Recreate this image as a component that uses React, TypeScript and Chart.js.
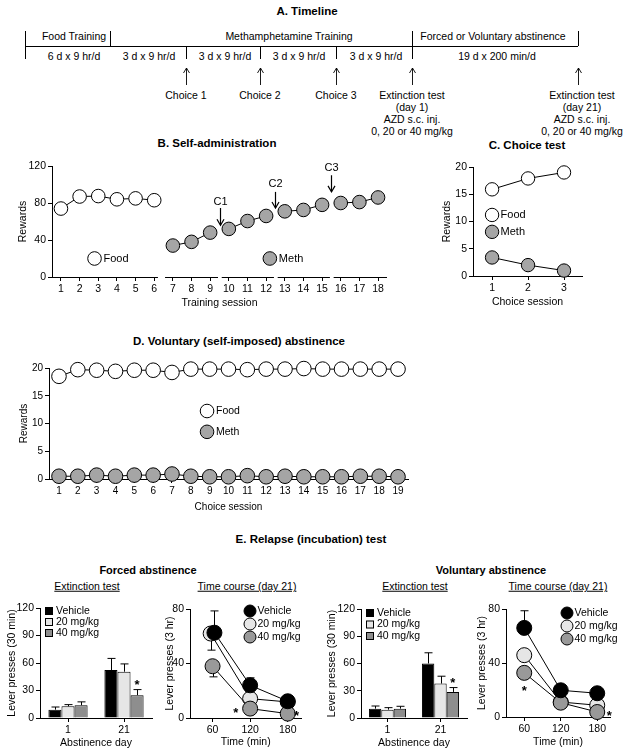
import React, { useEffect, useRef } from "react";
import { Chart, registerables } from "chart.js";

Chart.register(...registerables);

const FONT = '"Liberation Sans", Arial, Helvetica, sans-serif';
const WHITE = "#ffffff";
const METH_GRAY = "#a5a5a5";
const LIGHT = "#e6e6e6";
const MID = "#999999";
const BAR_MID = "#8e8e8e";

// ---------- B. Self-administration ----------
const trainingTicks = [1, 2, 3, 4, 5, 6, 7, 8, 9, 10, 11, 12, 13, 14, 15, 16, 17, 18];
const foodTrainingSessions = [1, 2, 3, 4, 5, 6];
const foodTrainingRewards = [74, 87, 87.5, 84, 85, 83];
const methTrainingSessions = [7, 8, 9, 10, 11, 12, 13, 14, 15, 16, 17, 18];
const methTrainingRewards = [34, 38, 48, 52, 60.5, 66, 71, 72.5, 78, 80, 81, 86];
const methBlockStarts = [7, 10, 13, 16];
const rewardTicksB = [0, 40, 80, 120];
const choiceLabels = ["C1", "C2", "C3"];
const choiceAfterSession = [9, 12, 15];
const choiceArrowTail = [74.6, 92, 110];
const choiceArrowTip = [56, 74.6, 92];
const choiceLabelLevel = [81, 100.5, 118];

// ---------- C. Choice test ----------
const choiceSessions = [1, 2, 3];
const foodChoice = [15.9, 17.9, 19.0];
const methChoice = [3.4, 2.0, 1.0];
const rewardTicks20 = [0, 5, 10, 15, 20];

// ---------- D. Voluntary abstinence ----------
const abstinenceSessions = [1, 2, 3, 4, 5, 6, 7, 8, 9, 10, 11, 12, 13, 14, 15, 16, 17, 18, 19];
const foodVoluntary = [18.5, 19.7, 19.6, 19.4, 19.6, 19.6, 19.2, 19.8, 19.8, 19.8, 19.7, 19.8, 19.8, 19.9, 19.8, 19.8, 19.8, 19.8, 19.8];
const methVoluntary = [0.5, 0.5, 0.7, 0.5, 0.7, 0.7, 0.9, 0.5, 0.4, 0.4, 0.6, 0.4, 0.5, 0.4, 0.4, 0.4, 0.5, 0.5, 0.4];

// ---------- E. Relapse test ----------
const abstinenceDays = ["1", "21"];
const doseLabels = ["Vehicle", "20 mg/kg", "40 mg/kg"];
const forcedExtVehicle = [9.1, 52.3];
const forcedExtVehicleSem = [2.9, 12.7];
const forcedExt20 = [12.8, 50.5];
const forcedExt20Sem = [1.8, 8.5];
const forcedExt40 = [13.9, 24.9];
const forcedExt40Sem = [3.7, 6.1];
const voluntaryExtVehicle = [10.3, 60.0];
const voluntaryExtVehicleSem = [2.9, 11.8];
const voluntaryExt20 = [9.2, 37.9];
const voluntaryExt20Sem = [2.2, 8.1];
const voluntaryExt40 = [10.3, 28.7];
const voluntaryExt40Sem = [2.6, 4.8];
const extTicks = [0, 30, 60, 90, 120];

const timePoints = [60, 120, 180];
const tcTicks = [0, 40, 80];
const forcedTcVehicle = [62.6, 24.0, 12.3];
const forcedTcVehicleErrUp = [16, 5.5, 0];
const forcedTc20 = [62.0, 14.2, 11.8];
const forcedTc20ErrDown = [12.2, 0, 0];
const forcedTc40 = [38.0, 6.9, 3.2];
const forcedTc40ErrDown = [7.8, 0, 0];
const voluntaryTcVehicle = [66.0, 19.8, 17.6];
const voluntaryTcVehicleErrUp = [12.7, 0, 0];
const voluntaryTc20 = [45.8, 11.1, 8.7];
const voluntaryTc40 = [32.7, 10.6, 3.7];
const forcedTcStarX = [97, 194];
const forcedTcStarY = [5.9, 4.4];
const voluntaryTcStarX = [60, 200];
const voluntaryTcStarY = [22, 3.7];
const FORCED_DODGE_MIN = 3; // small horizontal dodge for overlapping points at 60 min

// ---------- helpers ----------
type Box = { left: number; top: number; width: number; height: number };
type Area = { l: number; t: number; r: number; b: number };

function axis(fs: number, o: any) {
  const s: any = {
    type: o.type || "linear",
    position: o.position,
    offset: !!o.offset,
    border: { display: o.border !== false, color: "#000", width: 1 },
    grid: {
      display: true,
      drawOnChartArea: false,
      drawTicks: true,
      tickLength: 4,
      color: "#000",
      lineWidth: 1,
      offset: false,
    },
    ticks: {
      color: "#000",
      font: { family: FONT, size: fs },
      padding: 2,
      autoSkip: false,
      maxRotation: 0,
      minRotation: 0,
    },
    title: {
      display: true,
      text: o.title,
      color: "#000",
      font: { family: FONT, size: fs },
      padding: o.position === "left" ? { top: o.titlePad, bottom: 0 } : { top: 0, bottom: o.titlePad },
    },
    afterFit: o.afterFit,
  };
  if (o.min !== undefined) s.min = o.min;
  if (o.max !== undefined) s.max = o.max;
  if (o.tickValues) {
    const vals = o.tickValues;
    s.afterBuildTicks = (sc: any) => {
      sc.ticks = vals.map((v: number) => ({ value: v }));
    };
  }
  return s;
}

function frame(box: Box, a: Area, fs: number, x: any, y: any) {
  return {
    responsive: false,
    maintainAspectRatio: false,
    animation: false,
    devicePixelRatio: 1,
    events: [],
    layout: { padding: { left: 0, top: a.t, right: box.width - a.r, bottom: 0 } },
    plugins: { legend: { display: false }, tooltip: { enabled: false }, title: { display: false } },
    scales: {
      x: axis(fs, { ...x, position: "bottom", afterFit: (s: any) => { s.height = box.height - a.b; } }),
      y: axis(fs, { ...y, position: "left", afterFit: (s: any) => { s.width = a.l; } }),
    },
  };
}

function lineDs(label: string, xs: number[], ys: number[], fill: string, r: number, extra: any = {}) {
  return {
    type: "line",
    label,
    data: xs.map((x, i) => ({ x, y: ys[i] })),
    borderColor: "#000",
    borderWidth: 1,
    backgroundColor: fill,
    pointBackgroundColor: fill,
    pointBorderColor: "#000",
    pointBorderWidth: 1,
    pointRadius: r,
    pointHoverRadius: r,
    tension: 0,
    fill: false,
    clip: false,
    ...extra,
  };
}

function circle(ctx: any, x: number, y: number, r: number, fill: string) {
  ctx.beginPath();
  ctx.arc(x, y, r, 0, Math.PI * 2);
  ctx.fillStyle = fill;
  ctx.fill();
  ctx.lineWidth = 1;
  ctx.strokeStyle = "#000";
  ctx.stroke();
}

function text(ctx: any, s: string, x: number, y: number, size: number, align = "left") {
  ctx.font = `${size}px ${FONT}`;
  ctx.fillStyle = "#000";
  ctx.textAlign = align;
  ctx.textBaseline = "middle";
  ctx.fillText(s, x, y);
}

function star(ctx: any, x: number, yCenter: number) {
  ctx.font = `bold 13px ${FONT}`;
  ctx.fillStyle = "#000";
  ctx.textAlign = "center";
  ctx.textBaseline = "alphabetic";
  ctx.fillText("*", x, yCenter + 7.5);
}

function vline(ctx: any, x: number, y1: number, y2: number) {
  ctx.beginPath();
  ctx.moveTo(x, y1);
  ctx.lineTo(x, y2);
  ctx.stroke();
}

// ---------- chart configs ----------
const B_BOX: Box = { left: 0, top: 150, width: 410, height: 165 };
const B_AREA: Area = { l: 52, t: 16, r: 387, b: 127 };
const sessionAxisSegments = [
  [0.52, 6.2],
  [6.58, 9.42],
  [9.62, 12.42],
  [12.62, 15.42],
  [15.62, 18.48],
];

function makeB() {
  const blocks = methBlockStarts.map((s) => {
    const xs: number[] = [];
    const ys: number[] = [];
    methTrainingSessions.forEach((x, i) => {
      if (x >= s && x < s + 3) {
        xs.push(x);
        ys.push(methTrainingRewards[i]);
      }
    });
    return lineDs("Meth", xs, ys, METH_GRAY, 6.8);
  });
  const plugin = {
    id: "bExtras",
    beforeDatasetsDraw(chart: any) {
      const ctx = chart.ctx;
      const xs = chart.scales.x;
      const yb = Math.round(chart.chartArea.bottom - 0.5) + 0.5;
      ctx.save();
      ctx.strokeStyle = "#000";
      ctx.lineWidth = 1;
      sessionAxisSegments.forEach(([a, b]) => {
        ctx.beginPath();
        ctx.moveTo(xs.getPixelForValue(a), yb);
        ctx.lineTo(xs.getPixelForValue(b), yb);
        ctx.stroke();
      });
      ctx.restore();
    },
    afterDatasetsDraw(chart: any) {
      const ctx = chart.ctx;
      const xs = chart.scales.x;
      const ys = chart.scales.y;
      ctx.save();
      ctx.strokeStyle = "#000";
      ctx.lineWidth = 1.2;
      choiceLabels.forEach((lab, i) => {
        const xp = Math.round(xs.getPixelForValue(choiceAfterSession[i] + 0.5)) + 0.5;
        const y1 = ys.getPixelForValue(choiceArrowTail[i]);
        const y2 = ys.getPixelForValue(choiceArrowTip[i]);
        vline(ctx, xp, y1, y2);
        ctx.beginPath();
        ctx.moveTo(xp - 3.5, y2 - 6);
        ctx.lineTo(xp, y2);
        ctx.lineTo(xp + 3.5, y2 - 6);
        ctx.stroke();
        text(ctx, lab, xp, ys.getPixelForValue(choiceLabelLevel[i]), 11, "center");
      });
      const legend = [
        { t: "Food", fill: WHITE, x: 2.8 },
        { t: "Meth", fill: METH_GRAY, x: 12.2 },
      ];
      legend.forEach((l) => {
        const cx = xs.getPixelForValue(l.x);
        const cy = ys.getPixelForValue(20);
        circle(ctx, cx, cy, 6.8, l.fill);
        text(ctx, l.t, cx + 9, cy, 11);
      });
      ctx.restore();
    },
  };
  return {
    type: "line",
    data: { datasets: [lineDs("Food", foodTrainingSessions, foodTrainingRewards, WHITE, 6.8), ...blocks] },
    options: frame(
      B_BOX,
      B_AREA,
      10.5,
      { min: 0.52, max: 18.48, tickValues: trainingTicks, title: "Training session", titlePad: 5.5, border: false },
      { min: 0, max: 120, tickValues: rewardTicksB, title: "Rewards", titlePad: 16.7 }
    ),
    plugins: [plugin],
  };
}

const C_BOX: Box = { left: 420, top: 150, width: 205, height: 165 };
const C_AREA: Area = { l: 53, t: 17, r: 162, b: 126 };
function makeC() {
  const plugin = {
    id: "cExtras",
    afterDatasetsDraw(chart: any) {
      const ctx = chart.ctx;
      const xs = chart.scales.x;
      const ys = chart.scales.y;
      ctx.save();
      const legend = [
        { t: "Food", fill: WHITE, y: 11.2 },
        { t: "Meth", fill: METH_GRAY, y: 8.1 },
      ];
      legend.forEach((l) => {
        const cx = xs.getPixelForValue(1);
        const cy = ys.getPixelForValue(l.y);
        circle(ctx, cx, cy, 6.7, l.fill);
        text(ctx, l.t, cx + 8.5, cy, 11);
      });
      ctx.restore();
    },
  };
  return {
    type: "line",
    data: {
      datasets: [
        lineDs("Food", choiceSessions, foodChoice, WHITE, 6.7),
        lineDs("Meth", choiceSessions, methChoice, METH_GRAY, 6.7),
      ],
    },
    options: frame(
      C_BOX,
      C_AREA,
      10.5,
      { min: 0.47, max: 3.5, tickValues: choiceSessions, title: "Choice session", titlePad: 6.5 },
      { min: 0, max: 20, tickValues: rewardTicks20, title: "Rewards", titlePad: 20.7 }
    ),
    plugins: [plugin],
  };
}

const D_BOX: Box = { left: 0, top: 350, width: 430, height: 165 };
const D_AREA: Area = { l: 49, t: 18, r: 408, b: 129 };
function makeD() {
  const plugin = {
    id: "dExtras",
    afterDatasetsDraw(chart: any) {
      const ctx = chart.ctx;
      const xs = chart.scales.x;
      const ys = chart.scales.y;
      ctx.save();
      const legend = [
        { t: "Food", fill: WHITE, y: 12.25 },
        { t: "Meth", fill: METH_GRAY, y: 8.5 },
      ];
      legend.forEach((l) => {
        const cx = xs.getPixelForValue(8.86);
        const cy = ys.getPixelForValue(l.y);
        circle(ctx, cx, cy, 6.8, l.fill);
        text(ctx, l.t, cx + 9, cy, 10.5);
      });
      ctx.restore();
    },
  };
  return {
    type: "line",
    data: {
      datasets: [
        lineDs("Food", abstinenceSessions, foodVoluntary, WHITE, 7.3),
        lineDs("Meth", abstinenceSessions, methVoluntary, METH_GRAY, 7.3),
      ],
    },
    options: frame(
      D_BOX,
      D_AREA,
      10,
      { min: 0.47, max: 19.53, tickValues: abstinenceSessions, title: "Choice session", titlePad: 2 },
      { min: 0, max: 20, tickValues: rewardTicks20, title: "Rewards", titlePad: 18 }
    ),
    plugins: [plugin],
  };
}

// ---------- E: bar charts ----------
function barDs(label: string, data: number[], sem: number[], fill: string) {
  return {
    type: "bar",
    label,
    data,
    sem,
    backgroundColor: fill,
    borderColor: "#000",
    borderWidth: 1,
    categoryPercentage: 0.7,
    barPercentage: 1,
  };
}

function barExtras(legendRel: { x: number; y: number; step: number }) {
  return {
    id: "barExtras",
    afterDatasetsDraw(chart: any) {
      const ctx = chart.ctx;
      const ys = chart.scales.y;
      ctx.save();
      ctx.strokeStyle = "#000";
      ctx.lineWidth = 1;
      chart.data.datasets.forEach((ds: any, di: number) => {
        const meta = chart.getDatasetMeta(di);
        meta.data.forEach((el: any, i: number) => {
          const x = Math.round(el.x) + 0.5;
          const top = ys.getPixelForValue(ds.data[i] + ds.sem[i]);
          vline(ctx, x, el.y, top);
          ctx.beginPath();
          ctx.moveTo(x - 4, top);
          ctx.lineTo(x + 4, top);
          ctx.stroke();
          if (di === 2 && i === 1) star(ctx, el.x, top - 8);
        });
      });
      const ca = chart.chartArea;
      const fills = ["#000", LIGHT, BAR_MID];
      doseLabels.forEach((lab, i) => {
        const cx = ca.left + legendRel.x;
        const cy = ca.top + legendRel.y + i * legendRel.step;
        ctx.fillStyle = fills[i];
        ctx.fillRect(cx - 4, cy - 4, 8, 8);
        ctx.strokeRect(cx - 3.5, cy - 3.5, 7, 7);
        text(ctx, lab, cx + 7, cy, 10.5);
      });
      ctx.restore();
    },
  };
}

function makeBar(box: Box, area: Area, series: number[][], sems: number[][], yTitlePad: number, legendRel: any) {
  const fills = ["#000", LIGHT, BAR_MID];
  return {
    type: "bar",
    data: {
      labels: abstinenceDays,
      datasets: series.map((d, i) => barDs(doseLabels[i], d, sems[i], fills[i])),
    },
    options: frame(
      box,
      area,
      10.5,
      { type: "category", offset: true, title: "Abstinence day", titlePad: 6.7 },
      { min: 0, max: 120, tickValues: extTicks, title: "Lever presses (30 min)", titlePad: yTitlePad }
    ),
    plugins: [barExtras(legendRel)],
  };
}

// ---------- E: time courses ----------
function tcExtras(legendRel: { x: number; y: number; step: number }, starX: number[], starY: number[]) {
  return {
    id: "tcExtras",
    beforeDatasetsDraw(chart: any) {
      const ctx = chart.ctx;
      const ys = chart.scales.y;
      ctx.save();
      ctx.strokeStyle = "#000";
      ctx.lineWidth = 1;
      chart.data.datasets.forEach((ds: any, di: number) => {
        const meta = chart.getDatasetMeta(di);
        meta.data.forEach((el: any, i: number) => {
          const x = Math.round(el.x) + 0.5;
          const v = ds.data[i].y;
          const up = ds.errUp ? ds.errUp[i] : 0;
          const dn = ds.errDown ? ds.errDown[i] : 0;
          if (up > 0) {
            const t = ys.getPixelForValue(v + up);
            vline(ctx, x, el.y, t);
            ctx.beginPath();
            ctx.moveTo(x - 4, t);
            ctx.lineTo(x + 4, t);
            ctx.stroke();
          }
          if (dn > 0) {
            const b = ys.getPixelForValue(v - dn);
            vline(ctx, x, el.y, b);
            ctx.beginPath();
            ctx.moveTo(x - 4, b);
            ctx.lineTo(x + 4, b);
            ctx.stroke();
          }
        });
      });
      ctx.restore();
    },
    afterDatasetsDraw(chart: any) {
      const ctx = chart.ctx;
      const xs = chart.scales.x;
      const ys = chart.scales.y;
      const ca = chart.chartArea;
      ctx.save();
      starX.forEach((sx, i) => star(ctx, xs.getPixelForValue(sx), ys.getPixelForValue(starY[i])));
      const fills = ["#000", LIGHT, MID];
      doseLabels.forEach((lab, i) => {
        const cx = ca.left + legendRel.x;
        const cy = ca.top + legendRel.y + i * legendRel.step;
        circle(ctx, cx, cy, 6, fills[i]);
        text(ctx, lab, cx + 7.5, cy, 10.5);
      });
      ctx.restore();
    },
  };
}

function makeTc(
  box: Box,
  area: Area,
  xmin: number,
  xmax: number,
  veh: number[],
  vehX: number[],
  vehUp: number[],
  d20: number[],
  d20X: number[],
  d20Down: number[],
  d40: number[],
  d40Down: number[],
  yTitlePad: number,
  legendRel: any,
  starX: number[],
  starY: number[]
) {
  return {
    type: "line",
    data: {
      datasets: [
        lineDs("Vehicle", vehX, veh, "#000", 7.5, { order: 0, errUp: vehUp }),
        lineDs("20 mg/kg", d20X, d20, LIGHT, 7.5, { order: 2, errDown: d20Down }),
        lineDs("40 mg/kg", timePoints, d40, MID, 7.5, { order: 1, errDown: d40Down }),
      ],
    },
    options: frame(
      box,
      area,
      10.5,
      { min: xmin, max: xmax, tickValues: timePoints, title: "Time (min)", titlePad: 7.7 },
      { min: 0, max: 80, tickValues: tcTicks, title: "Lever presses (3 hr)", titlePad: yTitlePad }
    ),
    plugins: [tcExtras(legendRel, starX, starY)],
  };
}

const EFB_BOX: Box = { left: 0, top: 598, width: 160, height: 158 };
const EFB_AREA: Area = { l: 40, t: 10, r: 152, b: 120 };
const EFT_BOX: Box = { left: 160, top: 598, width: 150, height: 158 };
const EFT_AREA: Area = { l: 30, t: 11, r: 142, b: 120 };
const EVB_BOX: Box = { left: 310, top: 598, width: 165, height: 158 };
const EVB_AREA: Area = { l: 51, t: 11, r: 157, b: 120 };
const EVT_BOX: Box = { left: 470, top: 598, width: 155, height: 158 };
const EVT_AREA: Area = { l: 36, t: 11, r: 140, b: 119 };

const makeForcedBar = () =>
  makeBar(EFB_BOX, EFB_AREA, [forcedExtVehicle, forcedExt20, forcedExt40], [forcedExtVehicleSem, forcedExt20Sem, forcedExt40Sem], 5.7, { x: 9, y: 3, step: 11 });
const makeVoluntaryBar = () =>
  makeBar(EVB_BOX, EVB_AREA, [voluntaryExtVehicle, voluntaryExt20, voluntaryExt40], [voluntaryExtVehicleSem, voluntaryExt20Sem, voluntaryExt40Sem], 15.7, { x: 9, y: 4, step: 11.5 });
const makeForcedTc = () =>
  makeTc(
    EFT_BOX,
    EFT_AREA,
    24,
    202,
    forcedTcVehicle,
    timePoints.map((t, i) => (i === 0 ? t + FORCED_DODGE_MIN : t)),
    forcedTcVehicleErrUp,
    forcedTc20,
    timePoints.map((t, i) => (i === 0 ? t - FORCED_DODGE_MIN : t)),
    forcedTc20ErrDown,
    forcedTc40,
    forcedTc40ErrDown,
    3.7,
    { x: 60, y: 2, step: 13 },
    forcedTcStarX,
    forcedTcStarY
  );
const makeVoluntaryTc = () =>
  makeTc(
    EVT_BOX,
    EVT_AREA,
    30,
    201,
    voluntaryTcVehicle,
    timePoints,
    voluntaryTcVehicleErrUp,
    voluntaryTc20,
    timePoints,
    [0, 0, 0],
    voluntaryTc40,
    [0, 0, 0],
    5.7,
    { x: 61, y: 4, step: 13 },
    voluntaryTcStarX,
    voluntaryTcStarY
  );

// ---------- React components ----------
function ChartBox({ box, make }: { box: Box; make: () => any }) {
  const ref = useRef<HTMLCanvasElement>(null);
  useEffect(() => {
    const chart = new Chart(ref.current as HTMLCanvasElement, make());
    return () => chart.destroy();
  }, []);
  return (
    <canvas
      ref={ref}
      width={box.width}
      height={box.height}
      style={{ position: "absolute", left: box.left, top: box.top, width: box.width, height: box.height }}
    />
  );
}

function Label({ x, y, t, size = 11, bold = false, underline = false }: any) {
  return (
    <div
      style={{
        position: "absolute",
        left: x,
        top: y,
        transform: "translate(-50%, -50%)",
        whiteSpace: "nowrap",
        fontFamily: FONT,
        fontSize: size,
        fontWeight: bold ? "bold" : "normal",
        textDecoration: underline ? "underline" : "none",
        lineHeight: 1,
        color: "#000",
      }}
    >
      {t}
    </div>
  );
}

const TL_FS = 10.5;
function Timeline() {
  const lineY = 46;
  const tickTop = 31;
  const tickBottom = 59;
  const upper = [
    { x: 74, t: "Food Training" },
    { x: 289, t: "Methamphetamine Training" },
    { x: 493, t: "Forced or Voluntary abstinence" },
  ];
  const lower = [
    { x: 74, t: "6 d x 9 hr/d" },
    { x: 149, t: "3 d x 9 hr/d" },
    { x: 225, t: "3 d x 9 hr/d" },
    { x: 299, t: "3 d x 9 hr/d" },
    { x: 376, t: "3 d x 9 hr/d" },
    { x: 497, t: "19 d x 200 min/d" },
  ];
  const fullTicks = [25, 412];
  const upTicks = [110, 578];
  const downTicks = [186, 260, 336];
  const arrows = [186, 260, 336, 412, 578];
  const notes = [
    { x: 186, lines: ["Choice 1"] },
    { x: 260, lines: ["Choice 2"] },
    { x: 336, lines: ["Choice 3"] },
    { x: 412, lines: ["Extinction test", "(day 1)", "AZD s.c. inj.", "0, 20 or 40 mg/kg"] },
    { x: 582, lines: ["Extinction test", "(day 21)", "AZD s.c. inj.", "0, 20 or 40 mg/kg"] },
  ];
  const txt = (x: number, y: number, t: string, key: string, extra: any = {}) => (
    <text key={key} x={x} y={y} textAnchor="middle" dominantBaseline="central" fontFamily={FONT} fontSize={TL_FS} fill="#000" {...extra}>
      {t}
    </text>
  );
  return (
    <svg width={625} height={140} style={{ position: "absolute", left: 0, top: 0 }}>
      {txt(307, 11, "A. Timeline", "title", { fontWeight: "bold", fontSize: 11.5 })}
      {upper.map((u, i) => txt(u.x, 36, u.t, "u" + i))}
      {lower.map((u, i) => txt(u.x, 56, u.t, "l" + i))}
      <line x1={25} y1={lineY + 0.5} x2={578} y2={lineY + 0.5} stroke="#000" strokeWidth={1} />
      {fullTicks.map((x) => (
        <line key={"f" + x} x1={x + 0.5} y1={tickTop} x2={x + 0.5} y2={tickBottom} stroke="#000" strokeWidth={1} />
      ))}
      {upTicks.map((x) => (
        <line key={"uT" + x} x1={x + 0.5} y1={tickTop} x2={x + 0.5} y2={lineY} stroke="#000" strokeWidth={1} />
      ))}
      {downTicks.map((x) => (
        <line key={"dT" + x} x1={x + 0.5} y1={lineY} x2={x + 0.5} y2={tickBottom} stroke="#000" strokeWidth={1} />
      ))}
      {arrows.map((x) => (
        <g key={"a" + x} stroke="#000" strokeWidth={0.9} fill="none">
          <line x1={x + 0.5} y1={68} x2={x + 0.5} y2={85} />
          <polyline points={`${x - 2.5},${73} ${x + 0.5},${68} ${x + 3.5},${73}`} />
        </g>
      ))}
      {notes.map((n, i) => n.lines.map((l, j) => txt(n.x, 95 + j * 12, l, `n${i}-${j}`)))}
    </svg>
  );
}

export default function App() {
  return (
    <div
      style={{
        position: "absolute",
        left: 0,
        top: 0,
        width: 625,
        height: 756,
        background: "#fff",
        overflow: "hidden",
        fontFamily: FONT,
      }}
    >
      <Timeline />
      <Label x={217} y={144} t="B. Self-administration" size={11.5} bold />
      <Label x={527} y={146} t="C. Choice test" size={11.5} bold />
      <Label x={239} y={342} t="D. Voluntary (self-imposed) abstinence" size={11.5} bold />
      <Label x={311} y={540} t="E. Relapse (incubation) test" size={11.5} bold />
      <Label x={148} y={570} t="Forced abstinence" size={11} bold />
      <Label x={491} y={570} t="Voluntary abstinence" size={11} bold />
      <Label x={87} y={586} t="Extinction test" size={10.5} underline />
      <Label x={247} y={586} t="Time course (day 21)" size={10.5} underline />
      <Label x={415} y={586} t="Extinction test" size={10.5} underline />
      <Label x={558} y={586} t="Time course (day 21)" size={10.5} underline />
      <ChartBox box={B_BOX} make={makeB} />
      <ChartBox box={C_BOX} make={makeC} />
      <ChartBox box={D_BOX} make={makeD} />
      <ChartBox box={EFB_BOX} make={makeForcedBar} />
      <ChartBox box={EFT_BOX} make={makeForcedTc} />
      <ChartBox box={EVB_BOX} make={makeVoluntaryBar} />
      <ChartBox box={EVT_BOX} make={makeVoluntaryTc} />
    </div>
  );
}
